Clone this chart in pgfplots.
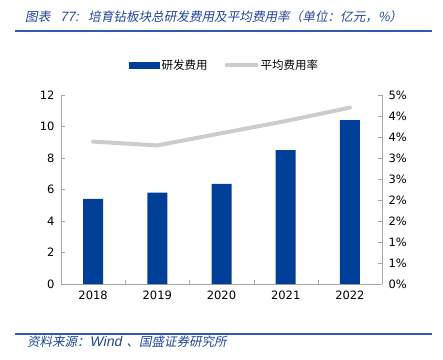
\documentclass[border=0pt]{standalone}
\usepackage{pgfplots}
\pgfplotsset{compat=1.18}
\usepackage{fontspec}
\setmainfont{DejaVu Sans}
\newfontfamily\cjk{Noto Sans CJK SC}
\newfontfamily\cjkit[FakeSlant=0.2]{Noto Sans CJK SC}
\newfontfamily\latit[FakeSlant=0.2]{Liberation Sans}
\definecolor{barblue}{HTML}{003F98}
\definecolor{linegray}{HTML}{CCCCCC}
\definecolor{axgray}{HTML}{A6A6A6}
\definecolor{titleblue}{HTML}{1F4596}
\definecolor{rulecol}{HTML}{2F5BA8}
\begin{document}
\begin{tikzpicture}[x=1pt,y=1pt]
\path[use as bounding box] (0,0) rectangle (443,359);
\draw[rulecol, line width=1.3pt] (15,328) -- (432,328);
\draw[rulecol, line width=1.3pt] (15,25) -- (432,25);
\node[anchor=west, text=titleblue, font=\cjkit\fontsize{12.6}{13}\selectfont, inner sep=0pt] at (25,342.5) {\makebox[31pt][l]{图表}\makebox[32pt][l]{\hspace{4pt}{\latit\fontsize{13.5}{14}\selectfont 77:}}培育钻板块总研发费用及平均费用率（单位：亿元，\%）};
\node[anchor=west, text=titleblue, font=\cjkit\fontsize{12.5}{13}\selectfont, inner sep=0pt] at (27,17) {资料来源：\makebox[37pt][l]{\latit\fontsize{14}{14}\selectfont Wind}、国盛证券研究所};
\begin{axis}[
  at={(61pt,75pt)}, anchor=south west, scale only axis,
  width=321pt, height=189pt,
  xmin=-0.5, xmax=4.5, ymin=0, ymax=12,
  ytick={0,2,...,12},
  xtick={0.5,1.5,2.5,3.5}, xticklabels={},
  extra x ticks={0,1,2,3,4},
  extra x tick labels={2018,2019,2020,2021,2022},
  extra x tick style={major tick length=0pt},
  axis y line*=left, axis x line*=bottom,
  axis line style={axgray,-},
  major tick style={axgray},
  major tick length=4pt,
  tick align=inside,
  tick label style={font=\fontsize{11.5}{13}\selectfont},
  /pgf/number format/assume math mode=true,
  yticklabel style={xshift=-3pt},
  xticklabel style={yshift=-3pt},
]
\addplot[ybar, bar width=20pt, fill=barblue, draw=none] coordinates {(0,5.4)(1,5.8)(2,6.35)(3,8.5)(4,10.4)};
\end{axis}
\begin{axis}[
  at={(61pt,75pt)}, anchor=south west, scale only axis,
  width=321pt, height=189pt,
  xmin=-0.5, xmax=4.5, ymin=0, ymax=4.5,
  axis x line=none, axis y line*=right,
  axis line style={axgray,-},
  major tick style={axgray},
  major tick length=4pt,
  tick align=inside,
  ytick={0,0.5,...,4.5},
  yticklabels={0\%,1\%,1\%,2\%,2\%,3\%,3\%,4\%,4\%,5\%},
  tick label style={font=\fontsize{11.5}{13}\selectfont},
  yticklabel style={xshift=3pt},
  legend columns=2,
  legend style={draw=none, fill=none, at={(0.51,1.159)}, anchor=center,
    font=\cjk\fontsize{11.5}{13}\selectfont,
    /tikz/every even column/.append style={column sep=15pt}},
]
\addlegendimage{legend image code/.code={\fill[barblue] (0pt,-3pt) rectangle (30pt,3pt);}}
\addlegendentry{研发费用}
\addplot[linegray, line width=4pt, line cap=round, line join=round, legend image code/.code={\draw[linegray, line width=4pt] (0pt,0pt) -- (30pt,0pt);}] coordinates {(0,3.39)(1,3.30)(2,3.59)(3,3.88)(4,4.20)};
\addlegendentry{平均费用率}
\end{axis}
\end{tikzpicture}
\end{document}
